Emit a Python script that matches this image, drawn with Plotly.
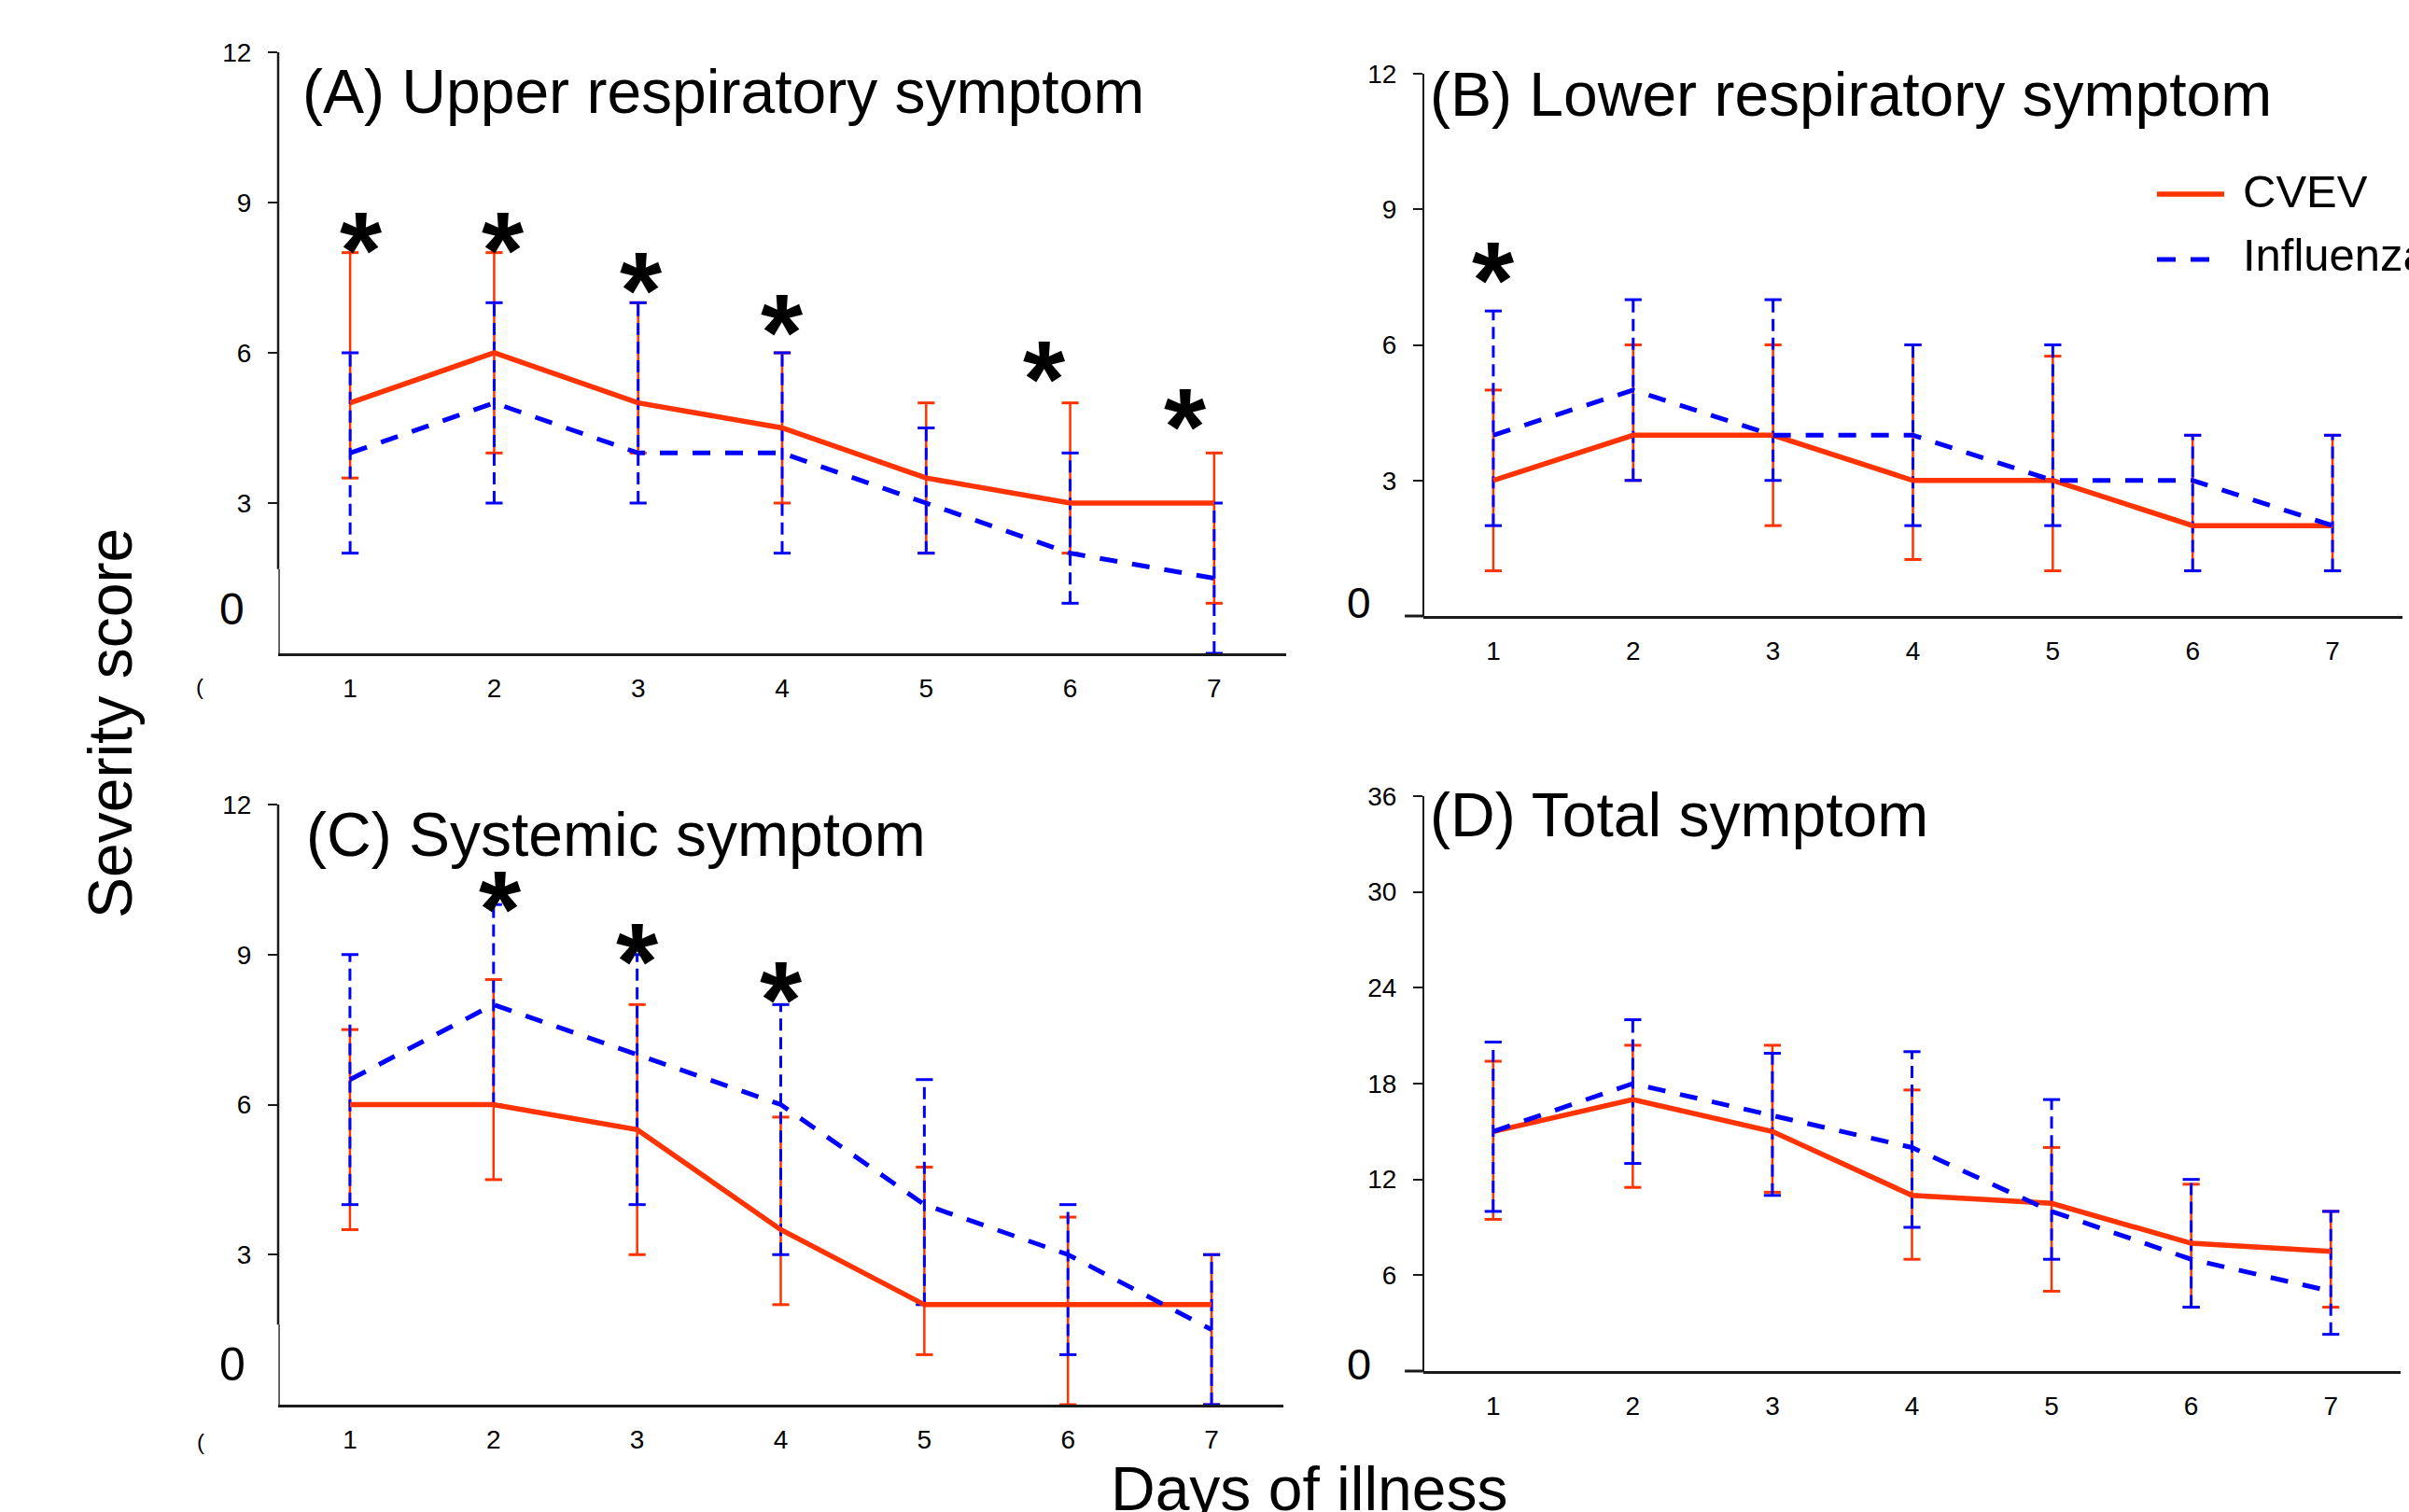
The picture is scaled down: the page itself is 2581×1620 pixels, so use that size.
import plotly.graph_objects as go

W, H = 2581, 1620
FONT = "Liberation Sans, Arial, sans-serif"
RED = "#ff3300"
BLUE = "#0000ff"
AXC = "#1a1a1a"

days = [1, 2, 3, 4, 5, 6, 7]
y_ticks_small = [3, 6, 9, 12]
y_ticks_total = [6, 12, 18, 24, 30, 36]

# (A) Upper respiratory symptom
a_cvev = [5, 6, 5, 4.5, 3.5, 3, 3]
a_cvev_hi = [8, 8, 7, 6, 5, 5, 4]
a_cvev_lo = [3.5, 4, 4, 3, 2, 2, 1]
a_flu = [4, 5, 4, 4, 3, 2, 1.5]
a_flu_hi = [6, 7, 7, 6, 4.5, 4, 3]
a_flu_lo = [2, 3, 3, 2, 2, 1, 0]
a_star_x = [1.08, 2.06, 3.02, 4.0, 5.82, 6.8]
a_star_y = [8.37, 8.37, 7.56, 6.72, 5.79, 4.85]

# (B) Lower respiratory symptom
b_cvev = [3, 4, 4, 3, 3, 2, 2]
b_cvev_hi = [5, 6, 6, 6, 5.75, 4, 4]
b_cvev_lo = [1, 3, 2, 1.25, 1, 1, 1]
b_flu = [4, 5, 4, 4, 3, 3, 2]
b_flu_hi = [6.75, 7, 7, 6, 6, 4, 4]
b_flu_lo = [2, 3, 3, 2, 2, 1, 1]
b_star_x = [1.0]
b_star_y = [7.79]

# (C) Systemic symptom
c_cvev = [6, 6, 5.5, 3.5, 2, 2, 2]
c_cvev_hi = [7.5, 8.5, 8, 5.75, 4.75, 3.75, 3]
c_cvev_lo = [3.5, 4.5, 3, 2, 1, 0, 0]
c_flu = [6.5, 8, 7, 6, 4, 3, 1.5]
c_flu_hi = [9, 10, 9, 8, 6.5, 4, 3]
c_flu_lo = [4, 6, 4, 3, 2, 1, 0]
c_star_x = [2.05, 3.0, 4.0]
c_star_y = [10.22, 9.18, 8.41]

# (D) Total symptom
d_cvev = [15, 17, 15, 11, 10.5, 8, 7.5]
d_cvev_hi = [19.4, 20.4, 20.4, 17.6, 14, 11.7, 10]
d_cvev_lo = [9.5, 11.5, 11.2, 7, 5, 4, 4]
d_flu = [15, 18, 16, 14, 10, 7, 5]
d_flu_hi = [20.6, 22, 19.9, 20, 17, 12, 10]
d_flu_lo = [10, 13, 11, 9, 7, 4, 2.3]

titles = ["(A) Upper respiratory symptom", "(B) Lower respiratory symptom",
          "(C) Systemic symptom", "(D) Total symptom"]
legend_names = ["CVEV", "Influenza"]


def px(x):
    return x / W


def py(y):
    return 1 - y / H


fig = go.Figure()

panels = [
    ("x", "y", a_cvev, a_cvev_hi, a_cvev_lo, a_flu, a_flu_hi, a_flu_lo, a_star_x, a_star_y),
    ("x2", "y2", b_cvev, b_cvev_hi, b_cvev_lo, b_flu, b_flu_hi, b_flu_lo, b_star_x, b_star_y),
    ("x3", "y3", c_cvev, c_cvev_hi, c_cvev_lo, c_flu, c_flu_hi, c_flu_lo, c_star_x, c_star_y),
    ("x4", "y4", d_cvev, d_cvev_hi, d_cvev_lo, d_flu, d_flu_hi, d_flu_lo, [], []),
]


def err_traces(xa, ya, hi, lo, color, width, dash):
    xs, ys = [], []
    for d, h, l in zip(days, hi, lo):
        xs += [d, d, None]
        ys += [l, h, None]
    fig.add_trace(go.Scatter(x=xs, y=ys, xaxis=xa, yaxis=ya, mode="lines",
                             line=dict(color=color, width=width, dash=dash),
                             showlegend=False, hoverinfo="skip", cliponaxis=False))
    fig.add_trace(go.Scatter(x=days + days, y=list(hi) + list(lo), xaxis=xa, yaxis=ya,
                             mode="markers",
                             marker=dict(symbol="line-ew", size=13,
                                         line=dict(color=color, width=3)),
                             showlegend=False, hoverinfo="skip", cliponaxis=False))


annotations = []
for xa, ya, cv, cvh, cvl, fl, flh, fll, sx, sy in panels:
    err_traces(xa, ya, cvh, cvl, RED, 2.5, "solid")
    err_traces(xa, ya, flh, fll, BLUE, 3, "13px,7px")
    fig.add_trace(go.Scatter(x=days, y=cv, xaxis=xa, yaxis=ya, mode="lines",
                             line=dict(color=RED, width=5.5), name=legend_names[0],
                             showlegend=False, cliponaxis=False))
    fig.add_trace(go.Scatter(x=days, y=fl, xaxis=xa, yaxis=ya, mode="lines",
                             line=dict(color=BLUE, width=5, dash="19px,16px"),
                             name=legend_names[1], showlegend=False, cliponaxis=False))
    for x, y in zip(sx, sy):
        annotations.append(dict(x=x, y=y, xref=xa, yref=ya, text="*", showarrow=False,
                                xanchor="center", yanchor="middle", yshift=-18,
                                font=dict(size=116, family=FONT, color="black", weight="bold")))

# domains (pixel-derived)
dom = {
    "A": ([px(298), px(1378)], [py(700), py(56)]),
    "B": ([px(1525), px(2574)], [py(660), py(79)]),
    "C": ([px(298), px(1375)], [py(1505), py(862)]),
    "D": ([px(1525), px(2572)], [py(1469), py(853)]),
}

tickfont = dict(size=28, family=FONT, color="black")


def xaxis(d, anchor):
    return dict(domain=d, range=[0.5, 7.5], anchor=anchor, tickvals=days,
                showline=True, linewidth=3, linecolor=AXC, ticks="", showgrid=False,
                zeroline=False, tickfont=tickfont, ticklabelstandoff=10, fixedrange=True,
                automargin=False)


def yaxis(d, anchor, rng, tv):
    return dict(domain=d, range=rng, anchor=anchor, tickvals=tv, ticks="outside",
                ticklen=10, tickwidth=2, tickcolor=AXC, showline=False, showgrid=False,
                zeroline=False, tickfont=tickfont, ticklabelstandoff=12, fixedrange=True,
                automargin=False)


fig.update_layout(
    width=W, height=H, autosize=False,
    margin=dict(l=0, r=0, t=0, b=0, pad=0),
    paper_bgcolor="white", plot_bgcolor="white",
    showlegend=False,
    xaxis=xaxis(dom["A"][0], "y"), yaxis=yaxis(dom["A"][1], "x", [0, 12], y_ticks_small),
    xaxis2=xaxis(dom["B"][0], "y2"), yaxis2=yaxis(dom["B"][1], "x2", [0, 12], y_ticks_small),
    xaxis3=xaxis(dom["C"][0], "y3"), yaxis3=yaxis(dom["C"][1], "x3", [0, 12], y_ticks_small),
    xaxis4=xaxis(dom["D"][0], "y4"), yaxis4=yaxis(dom["D"][1], "x4", [0, 36], y_ticks_total),
)

shapes = []
# y-axis lines (A and C have a thinner lower portion)
for xa, ya, brk in [("x", "y", 1.68), ("x3", "y3", 1.6)]:
    shapes.append(dict(type="line", xref=xa + " domain", yref=ya, x0=0, x1=0, y0=brk, y1=12,
                       line=dict(color=AXC, width=2.5)))
    shapes.append(dict(type="line", xref=xa + " domain", yref=ya, x0=0.001, x1=0.001, y0=0, y1=brk,
                       line=dict(color="#333333", width=1.5)))
for xa, ya, top in [("x2", "y2", 12), ("x4", "y4", 36)]:
    shapes.append(dict(type="line", xref=xa + " domain", yref=ya, x0=0, x1=0, y0=0, y1=top,
                       line=dict(color=AXC, width=2)))
    # x-axis line extends slightly left of the y-axis
    shapes.append(dict(type="line", xref=xa + " domain", yref=ya + " domain", x0=-0.019, x1=0,
                       y0=0, y1=0, line=dict(color=AXC, width=3)))

# legend samples
shapes.append(dict(type="line", xref="paper", yref="paper", x0=px(2311), x1=px(2383),
                   y0=py(208), y1=py(208), line=dict(color=RED, width=5.5)))
shapes.append(dict(type="line", xref="paper", yref="paper", x0=px(2311), x1=px(2383),
                   y0=py(278), y1=py(278), line=dict(color=BLUE, width=5, dash="20px,16px")))

# panel titles
for t, (x, y) in zip(titles, [(322, 98), (1530, 101), (326, 894), (1530, 873)]):
    annotations.append(dict(x=px(x), y=py(y), xref="paper", yref="paper", text=t,
                            showarrow=False, xanchor="left", yanchor="middle",
                            font=dict(size=66, family=FONT, color="black")))

# misplaced "0" labels
for x, y, s in [(248, 652, 48), (1456, 646, 46), (249, 1462, 50), (1456, 1461, 47)]:
    annotations.append(dict(x=px(x), y=py(y), xref="paper", yref="paper", text="0",
                            showarrow=False, xanchor="center", yanchor="middle",
                            font=dict(size=s, family=FONT, color="black")))

# clipped x tick remnants
for x, y in [(214, 735), (215, 1544)]:
    annotations.append(dict(x=px(x), y=py(y), xref="paper", yref="paper", text="(",
                            showarrow=False, xanchor="center", yanchor="middle",
                            font=dict(size=24, family=FONT, color="black")))

# legend labels
for name, y in zip(legend_names, [205, 273]):
    annotations.append(dict(x=px(2401), y=py(y), xref="paper", yref="paper", text=name,
                            showarrow=False, xanchor="left", yanchor="middle",
                            font=dict(size=49, family=FONT, color="black")))

# shared axis titles
annotations.append(dict(x=px(118), y=py(775), xref="paper", yref="paper", text="Severity score",
                        showarrow=False, textangle=-90, xanchor="center", yanchor="middle",
                        font=dict(size=66, family=FONT, color="black")))
annotations.append(dict(x=px(1403), y=py(1595), xref="paper", yref="paper", text="Days of illness",
                        showarrow=False, xanchor="center", yanchor="middle",
                        font=dict(size=66, family=FONT, color="black")))

fig.update_layout(shapes=shapes, annotations=annotations)

fig.write_html("out.html")
